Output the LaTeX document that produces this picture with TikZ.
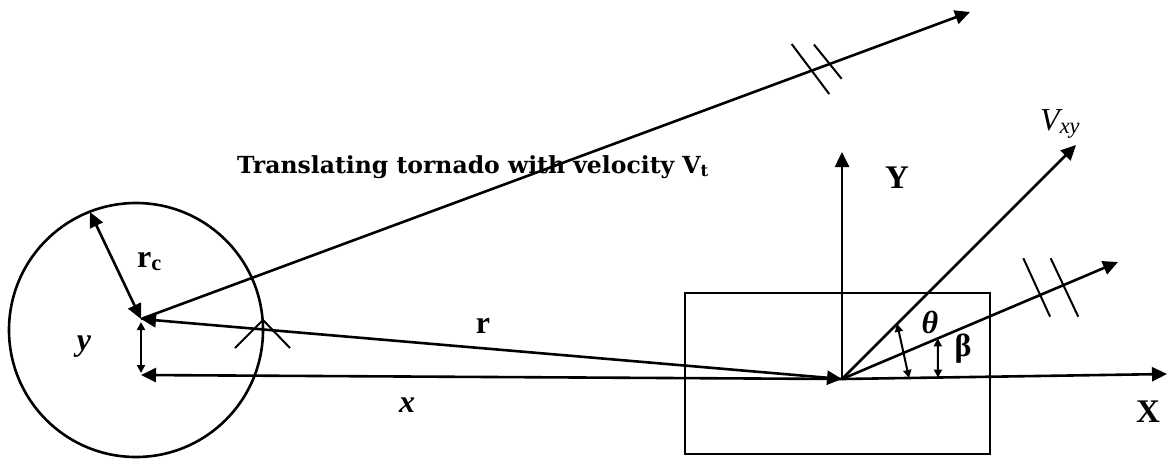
\documentclass[tikz,border=0pt]{standalone}
\usepackage{fontspec}
\setmainfont{Liberation Serif}[
  ItalicFont={Liberation Serif Italic},
  BoldFont={Liberation Serif Bold},
  BoldItalicFont={Liberation Serif Bold Italic}]
\newfontfamily\titlefont{DejaVu Serif}
\usetikzlibrary{arrows.meta,calc}

\begin{document}
\begin{tikzpicture}[x=1pt,y=-1pt,
  line/.style={line width=2.6pt},
  thin/.style={line width=2pt},
  arr/.style={line,-{Triangle[length=15pt,width=14pt]}},
  darr/.style={line,{Triangle[length=15pt,width=14pt]}-{Triangle[length=15pt,width=14pt]}},
  sarr/.style={thin,{Triangle[length=8pt,width=8pt]}-{Triangle[length=8pt,width=8pt]}},
  lbl/.style={inner sep=0pt,font=\fontsize{32}{36}\selectfont\bfseries},
  ilbl/.style={inner sep=0pt,font=\fontsize{32}{36}\selectfont\itshape},
  axlbl/.style={inner sep=0pt,font=\fontsize{33}{38}\selectfont\bfseries}]

\useasboundingbox (0,0) rectangle (1169,459);

% key points
\coordinate (C) at (141,319);
\coordinate (ctr) at (141,375);
\coordinate (rim) at (90,212);
\coordinate (vt) at (970,12);
\coordinate (O) at (842,379);
\coordinate (ytip) at (842,152);
\coordinate (xtip) at (1167,374);
\coordinate (vxy) at (1076,145);
\coordinate (wind) at (1118,262);

% tornado and building
\draw[line] (136,330) circle[radius=127pt];
\draw[thin] (235,348) -- (263,320) -- (290,348);
\draw[line] (685,293) rectangle (990,454);

% vectors
\draw[darr] (C) -- (rim);
\draw[sarr] ($(C)+(0,3)$) -- ($(ctr)+(0,-2)$);
\draw[darr] (O) -- (C);
\draw[arr] (O) -- (ctr);
\draw[arr] (C) -- (vt);
\draw[arr] (O) -- (ytip);
\draw[arr] (O) -- (xtip);
\draw[arr] (O) -- (vxy);
\draw[arr] (O) -- (wind);

% angles
\draw[sarr] ($(O)!78pt!(vxy)$) -- ($(O)!67pt!(xtip)$);
\draw[sarr] ($(O)!104pt!(wind)$) -- ($(O)!96pt!(xtip)$);

% parallel marks
\draw[thin] ($(C)!0.809!(vt)+(-20,-26.6)$) -- ++(37.6,50);
\draw[thin] ($(C)!0.829!(vt)+(-14.3,-20)$) -- ++(27.7,34.3);
\draw[thin] ($(O)!0.718!(wind)+(-16.8,-36.7)$) -- ++(26.7,58.4);
\draw[thin] ($(O)!0.802!(wind)+(-12.7,-26.9)$) -- ++(27.6,58.4);

% labels
\node[anchor=base west,inner sep=0pt,font=\titlefont\fontsize{23.5}{28}\selectfont\bfseries]
  (title) at (237,173) {Translating tornado with velocity V\textsubscript{t}};
\node[lbl,anchor=base west] (rc) at (137,267) {r\textsubscript{c}};
\node[ilbl,anchor=base,font=\fontsize{32}{36}\selectfont\bfseries\itshape] (ylbl) at (84,350) {y};
\node[ilbl,anchor=base,font=\fontsize{32}{36}\selectfont\bfseries\itshape] (xlbl) at (407,412) {x};
\node[lbl] (rlbl) at (483,326) {r};
\node[lbl,anchor=base,font=\fontsize{32}{36}\selectfont\bfseries\itshape] (th) at (930,333) {θ};
\node[lbl] (be) at (963,349) {β};
\node[axlbl] (Ylbl) at (897,178) {Y};
\node[axlbl] (Xlbl) at (1148,412) {X};
\node[ilbl,anchor=base west] (vlbl) at (1040,130) {V\textsubscript{xy}};
\end{tikzpicture}
\end{document}
